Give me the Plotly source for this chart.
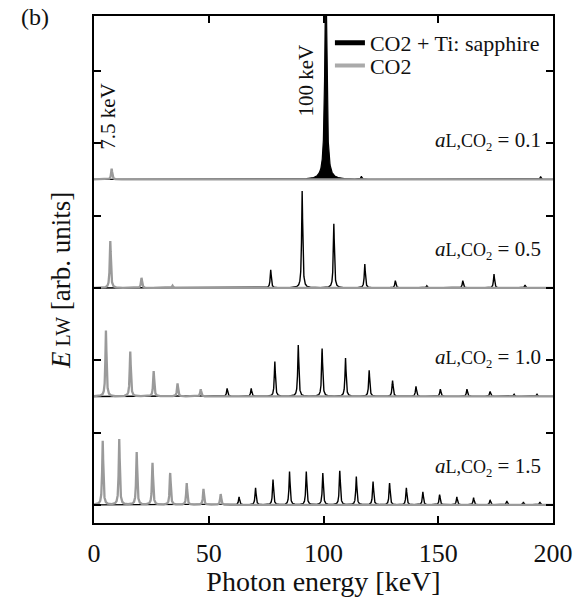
import numpy as np
import plotly.graph_objects as go

# ---- data (peak positions in keV, peak heights in arb. units) ----
panel_labels = ["0.1", "0.5", "1.0", "1.5"]
panel_offsets = [4.5, 3.0, 1.5, 0.0]

gray_pos_01 = [7.7]
gray_h_01 = [0.15]
black_pos_01 = [101.0, 116.5, 194.6]
black_h_01 = [3.0, 0.04, 0.04]

gray_pos_05 = [7.1, 20.7, 34.2]
gray_h_05 = [0.65, 0.14, 0.03]
black_pos_05 = [77.0, 90.7, 104.5, 118.0, 131.3, 145.0, 160.7, 174.3, 187.8]
black_h_05 = [0.25, 1.34, 0.885, 0.33, 0.10, 0.03, 0.10, 0.19, 0.04]

gray_pos_10 = [5.2, 15.8, 26.0, 36.4, 46.5]
gray_h_10 = [0.91, 0.62, 0.35, 0.18, 0.10]
black_pos_10 = [58.0, 68.5, 78.8, 89.0, 99.4, 109.6, 119.9, 130.1, 140.3,
                150.9, 162.5, 172.6, 183.0, 193.0]
black_h_10 = [0.11, 0.11, 0.48, 0.71, 0.66, 0.53, 0.36, 0.22, 0.14,
              0.10, 0.10, 0.07, 0.03, 0.03]

gray_pos_15 = [3.8, 11.0, 18.6, 25.5, 33.2, 40.4, 47.7, 55.2]
gray_h_15 = [0.885, 0.91, 0.73, 0.58, 0.44, 0.30, 0.22, 0.15]
black_pos_15 = [63.2, 70.4, 78.0, 85.2, 92.5, 99.7, 107.1, 114.3, 121.6,
                128.8, 136.1, 143.3, 150.6, 158.1, 165.4, 172.6, 179.9,
                187.1, 194.3]
black_h_15 = [0.11, 0.235, 0.35, 0.46, 0.46, 0.44, 0.47, 0.39, 0.32,
              0.30, 0.235, 0.18, 0.14, 0.11, 0.10, 0.07, 0.055, 0.04, 0.04]

x_ticks = [0, 50, 100, 150, 200]

panels = [
    (gray_pos_01, gray_h_01, black_pos_01, black_h_01),
    (gray_pos_05, gray_h_05, black_pos_05, black_h_05),
    (gray_pos_10, gray_h_10, black_pos_10, black_h_10),
    (gray_pos_15, gray_h_15, black_pos_15, black_h_15),
]

# ---- rendering of the line shapes ----
x = np.linspace(0, 200, 8001)
GAMMA = 0.28


def line_shape(pos, h, gamma):
    y = np.zeros_like(x)
    for c, a in zip(pos, h):
        y += a * gamma ** 2 / ((x - c) ** 2 + gamma ** 2)
    return y


GRAY = "#9a9a9a"
FONT = "Liberation Serif, Times New Roman, serif"
TXT = "#111"

fig = go.Figure()

# black spectra first (underneath)
for i, (gp, gh, bp, bh) in enumerate(panels):
    off = panel_offsets[i]
    if i == 0:
        fig.add_trace(go.Scatter(x=x, y=np.full_like(x, off), mode="lines",
                                 line=dict(width=0, color="black"),
                                 showlegend=False, hoverinfo="skip"))
        yb = off + line_shape(bp[:1], bh[:1], 0.5) + line_shape(bp[1:], bh[1:], GAMMA)
        fig.add_trace(go.Scatter(x=x, y=yb, mode="lines", fill="tonexty",
                                 fillcolor="black",
                                 line=dict(color="black", width=1.2),
                                 showlegend=False))
    else:
        yb = off + line_shape(bp, bh, GAMMA)
        fig.add_trace(go.Scatter(x=x, y=yb, mode="lines",
                                 line=dict(color="black", width=1.4),
                                 showlegend=False))

# gray spectra on top
for i, (gp, gh, bp, bh) in enumerate(panels):
    off = panel_offsets[i]
    yg = off + line_shape(gp, gh, GAMMA)
    fig.add_trace(go.Scatter(x=x, y=yg, mode="lines",
                             line=dict(color=GRAY, width=2.3),
                             showlegend=False))

# legend entries (two single-item legends for exact placement)
fig.add_trace(go.Scatter(x=[None], y=[None], mode="lines",
                         line=dict(color="black", width=5),
                         name="CO2 + Ti: sapphire", legend="legend"))
fig.add_trace(go.Scatter(x=[None], y=[None], mode="lines",
                         line=dict(color="#aaaaaa", width=4),
                         name="CO2", legend="legend2"))

ann = []
for i, lab in enumerate(panel_labels):
    ann.append(dict(
        x=195.5, y=panel_offsets[i] + 0.53, xref="x", yref="y",
        xanchor="right", yanchor="middle", showarrow=False,
        text="<i>a</i><span style='font-size:18px'>L,CO<sub>2</sub></span> = " + lab,
        font=dict(family=FONT, size=21, color=TXT)))

ann.append(dict(x=5.8, y=5.37, xref="x", yref="y", text="7.5 keV",
                textangle=-90, showarrow=False, xanchor="center", yanchor="middle",
                font=dict(family=FONT, size=21, color=TXT)))
ann.append(dict(x=92.6, y=5.86, xref="x", yref="y", text="100 keV",
                textangle=-90, showarrow=False, xanchor="center", yanchor="middle",
                font=dict(family=FONT, size=21, color=TXT)))
ann.append(dict(x=-0.072, y=0.479, xref="paper", yref="paper",
                text="<i>E</i><span style='font-size:20px'> LW</span> [arb. units]",
                textangle=-90, showarrow=False, xanchor="center", yanchor="middle",
                font=dict(family=FONT, size=27, color=TXT)))
ann.append(dict(x=-0.163, y=0.998, xref="paper", yref="paper", text="(b)",
                xanchor="left", yanchor="middle",
                showarrow=False, font=dict(family=FONT, size=24, color=TXT)))

legend_common = dict(xanchor="left", yanchor="middle", bgcolor="rgba(0,0,0,0)",
                     font=dict(family=FONT, size=22, color=TXT), itemwidth=30,
                     traceorder="normal")

fig.update_layout(
    width=578, height=597,
    margin=dict(l=94, r=25, t=16, b=74, autoexpand=False),
    paper_bgcolor="white", plot_bgcolor="white",
    font=dict(family=FONT, size=22, color=TXT),
    showlegend=True,
    legend=dict(x=0.514, y=0.947, **legend_common),
    legend2=dict(x=0.514, y=0.902, **legend_common),
    annotations=ann,
)
fig.update_xaxes(range=[0, 200], tickvals=x_ticks, ticktext=[str(t) for t in x_ticks],
                 ticks="inside", ticklen=7, tickwidth=1.5, tickcolor="black",
                 showline=True, linecolor="black", linewidth=1.5, mirror="ticks",
                 showgrid=False, zeroline=False, automargin=False,
                 ticklabelstandoff=6,
                 title=dict(text="Photon energy [keV]",
                            font=dict(family=FONT, size=28, color=TXT), standoff=6),
                 tickfont=dict(family=FONT, size=26, color=TXT))
fig.update_yaxes(range=[-0.25, 6.76], tickvals=[0, 1, 2, 3, 4, 5, 6],
                 showticklabels=False, automargin=False,
                 ticks="inside", ticklen=7, tickwidth=1.5, tickcolor="black",
                 showline=True, linecolor="black", linewidth=1.5, mirror="ticks",
                 showgrid=False, zeroline=False)

fig.write_html(
    "out.html",
    config={"displayModeBar": False},
    post_script="document.body.style.margin='0';document.body.style.overflow='hidden';",
)
